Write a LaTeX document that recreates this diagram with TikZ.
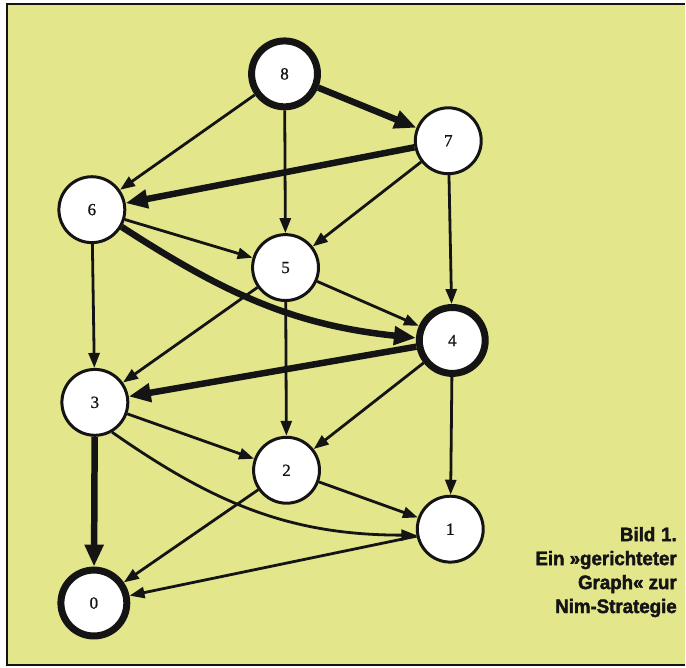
\documentclass[tikz,border=0pt]{standalone}
\usepackage{fontspec}
\newfontfamily\capfont[FakeStretch=0.96,FakeBold=2]{Liberation Sans Bold}
\newfontfamily\numfont[FakeBold=1]{Liberation Serif}
\usetikzlibrary{arrows.meta}
\definecolor{paper}{RGB}{228,230,140}
\definecolor{ink}{RGB}{20,20,20}
\begin{document}
\begin{tikzpicture}[x=1pt,y=1pt,
  state/.style={circle,draw=ink,fill=white,line width=3pt,minimum size=66pt,
    inner sep=0pt,text=ink,font=\numfont\fontsize{17}{17}\selectfont},
  goal/.style={state,line width=7pt},
  edge/.style={draw=ink,line width=2.8pt,-{Triangle[length=15pt,width=11pt]}},
  win/.style={draw=ink,line width=6.5pt,-{Triangle[length=22pt,width=18pt]}},
  caption/.style={anchor=base east,inner sep=0pt,text=ink,
    font=\capfont\fontsize{19.5}{24}\selectfont},
]
% page and frame
\fill[white] (0,0) rectangle (686,-669);
\fill[paper] (7,-4) rectangle (686,-666);
\draw[ink,line width=2.2pt] (686,-4) -- (7,-4) -- (7,-666) -- (686,-666);
\useasboundingbox (0,0) rectangle (686,-669);

% positions of the game
\node[goal]  (n8) at (285,-74)  {8};
\node[state] (n7) at (449,-141) {7};
\node[state] (n6) at (92,-210)  {6};
\node[state] (n5) at (286,-268) {5};
\node[goal]  (n4) at (453,-341) {4};
\node[state] (n3) at (95,-403)  {3};
\node[state] (n2) at (287,-471) {2};
\node[state] (n1) at (451,-530) {1};
\node[goal]  (n0) at (94,-604)  {0};

% ordinary moves
\draw[edge] (n8) -- (n6);
\draw[edge] (n8) -- (n5);
\draw[edge] (n7) -- (n5);
\draw[edge] (n7) -- (n4);
\draw[edge] (n6) -- (n5);
\draw[edge] (n6) -- (n3);
\draw[edge] (n5) -- (n4);
\draw[edge] (n5) -- (n3);
\draw[edge] (n5) -- (n2);
\draw[edge] (n4) -- (n2);
\draw[edge] (n4) -- (n1);
\draw[edge] (n3) -- (n2);
\draw[edge] (n3.-60) to[out=-35,in=180] (n1.190);
\draw[edge] (n2) -- (n1);
\draw[edge] (n2) -- (n0);
\draw[edge] (n1) -- (n0);

% winning moves
\draw[win] (n8) -- (n7);
\draw[win] (n7) -- (n6);
\draw[win] (n6.-30) to[out=-33,in=174] (n4.176);
\draw[win] (n4) -- (n3);
\draw[win] (n3) -- (n0);

% caption
\node[caption] (c1) at (678,-542) {Bild\hspace{0.3em}1.};
\node[caption] (c2) at (678,-566) {Ein »gerichteter};
\node[caption] (c3) at (678,-590) {Graph« zur};
\node[caption] (c4) at (678,-614) {Nim-Strategie};
\end{tikzpicture}
\end{document}
